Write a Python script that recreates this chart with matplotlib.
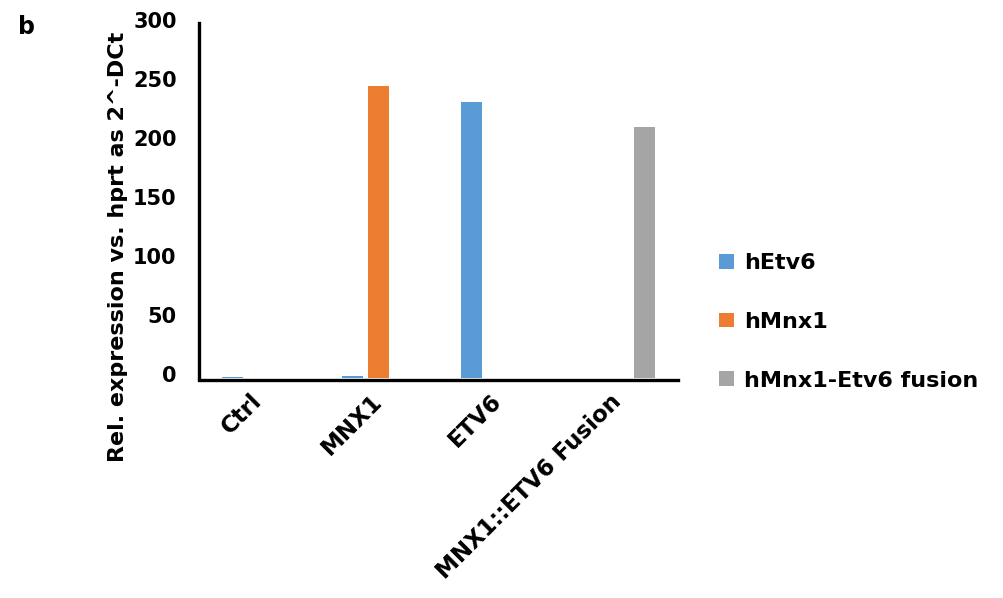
import numpy as np
import matplotlib
matplotlib.use("Agg")
import matplotlib.pyplot as plt
import matplotlib.transforms as mtransforms

plt.rcParams['font.family'] = ['DejaVu Sans']
plt.rcParams['font.weight'] = 'bold'

categories = ["Ctrl", "MNX1", "ETV6", "MNX1::ETV6 Fusion"]
series_names = ["hEtv6", "hMnx1", "hMnx1-Etv6 fusion"]
h_etv6 = [0.8, 1.3, 233, 0]
h_mnx1 = [0, 247, 0, 0]
h_mnx1_etv6 = [0, 0, 0, 212]
yticks = [0, 50, 100, 150, 200, 250, 300]

colors = ["#5B9BD5", "#ED7D31", "#A5A5A5"]
series = [h_etv6, h_mnx1, h_mnx1_etv6]

fig = plt.figure(figsize=(10.04, 5.98), dpi=100)
ax = fig.add_axes([0.198, 0.368, 0.477, 0.5935])

# axis frame: left and bottom only, bottom line sits just below zero
for s in ['top', 'right']:
    ax.spines[s].set_visible(False)
for s in ['left', 'bottom']:
    ax.spines[s].set_linewidth(2.4)
    ax.spines[s].set_color('black')
ax.spines['bottom'].set_position(('outward', 1.2))

x = np.arange(len(categories))
width = 0.175
offsets = [-0.22, 0.0, 0.22]
for vals, name, col, off in zip(series, series_names, colors, offsets):
    ax.bar(x + off, vals, width, color=col, label=name)

ax.set_xlim(-0.5, len(categories) - 0.5)
ax.set_ylim(0, 300)
ax.set_yticks(yticks)
ax.set_yticklabels([str(v) for v in yticks], fontsize=15, fontweight='bold')
ax.set_xticks(x)
ax.set_xticklabels(categories, fontsize=16.5, fontweight='bold', rotation=45,
                   ha='right', va='center', rotation_mode='anchor')
ax.tick_params(axis='both', length=0)
ax.tick_params(axis='y', pad=16)
ax.tick_params(axis='x', pad=13)

# nudge the y tick labels slightly upward
lift = mtransforms.ScaledTranslation(0, 2.5 / 72, fig.dpi_scale_trans)
for lbl in ax.get_yticklabels():
    lbl.set_transform(lbl.get_transform() + lift)

fig.text(0.1175, 0.587, "Rel. expression vs. hprt as 2^-DCt", rotation=90,
         ha='center', va='center', fontsize=16, fontweight='bold')
fig.text(0.018, 0.955, "b", fontsize=17, fontweight='bold', ha='left', va='center')

leg = ax.legend(loc='center left', bbox_to_anchor=(1.045, 0.158), frameon=False,
                prop={'weight': 'bold', 'size': 16},
                handlelength=0.65, handleheight=0.65, handletextpad=0.45,
                labelspacing=1.74)

fig.savefig("out.png", dpi=100, facecolor='white')
